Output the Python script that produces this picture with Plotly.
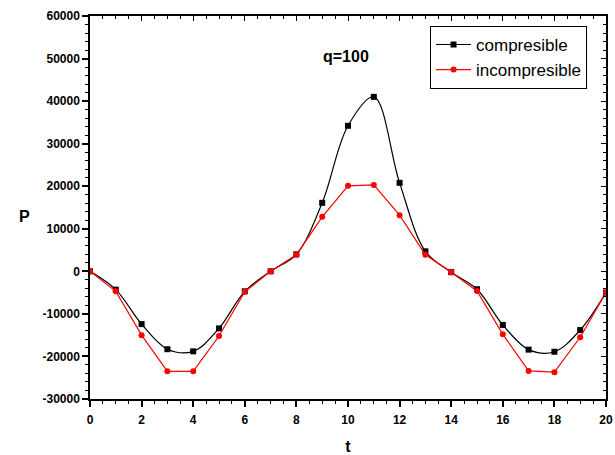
import plotly.graph_objects as go

t = list(range(0, 21))
compresible = [0, -4300, -12400, -18300, -18800, -13400, -4700, 0, 4000, 16100, 34200, 41000,
               20800, 4700, -200, -4200, -12600, -18400, -18900, -13800, -5000]
incompresible = [0, -4700, -15000, -23500, -23500, -15200, -4800, 0, 3900, 12800, 20100, 20300,
                 13200, 3900, -200, -4600, -14800, -23400, -23700, -15500, -5000]

x_ticks = list(range(0, 21, 2))
y_ticks = list(range(-30000, 60001, 10000))
y_ticktext = [str(v) for v in y_ticks]

fig = go.Figure()
fig.add_trace(go.Scatter(x=t, y=compresible, name="compresible", mode="lines+markers",
                         line=dict(color="black", width=1.2, shape="spline", smoothing=1.0),
                         marker=dict(symbol="square", size=6, color="black")))
fig.add_trace(go.Scatter(x=t, y=incompresible, name="incompresible", mode="lines+markers",
                         line=dict(color="red", width=1.2),
                         marker=dict(symbol="circle", size=6, color="red")))

tickfont = dict(family="Liberation Sans", size=12, color="black", weight="bold")
titlefont = dict(family="Liberation Sans", size=16, color="black")
common = dict(showline=True, linecolor="black", linewidth=1.5, showgrid=False, zeroline=False, automargin=False,
              ticks="outside", ticklen=6, tickwidth=1.5, tickcolor="black", tickfont=tickfont)

fig.update_layout(
    width=615, height=455,
    margin=dict(l=90, r=9, t=16, b=56),
    plot_bgcolor="white", paper_bgcolor="white",
    showlegend=True,
    xaxis=dict(range=[0, 20], tickvals=x_ticks, title=dict(text="<b>t</b>", font=titlefont, standoff=18),
               ticklabelstandoff=3,
               minor=dict(dtick=0.5, ticks="outside", ticklen=3, tickwidth=1, tickcolor="black"), **common),
    yaxis=dict(range=[-30000, 60000], tickvals=y_ticks, ticktext=y_ticktext,
               minor=dict(dtick=2000, ticks="outside", ticklen=3, tickwidth=1, tickcolor="black"), **common),
    xaxis2=dict(range=[0, 20], overlaying="x", side="top", anchor="y", showline=True, linecolor="black", linewidth=1.5, automargin=False,
                ticks="inside", ticklen=5, tickwidth=1, tickcolor="black", tickvals=x_ticks, showticklabels=False, showgrid=False, zeroline=False,
                minor=dict(dtick=0.5, ticks="inside", ticklen=3, tickwidth=1, tickcolor="black")),
    yaxis2=dict(range=[-30000, 60000], overlaying="y", side="right", anchor="x", showline=True, linecolor="black", linewidth=1.5, automargin=False,
                ticks="inside", ticklen=5, tickwidth=1, tickcolor="black", tickvals=y_ticks, showticklabels=False, showgrid=False, zeroline=False,
                minor=dict(dtick=2000, ticks="inside", ticklen=3, tickwidth=1, tickcolor="black")),
    legend=dict(x=0.659, y=0.974, xanchor="left", yanchor="top", bgcolor="white", bordercolor="black", borderwidth=1,
                font=dict(family="Liberation Sans", size=17, color="black"), itemwidth=35, tracegroupgap=0),
    annotations=[dict(text="<b>q=100</b>", x=0.496, y=0.921, xref="paper", yref="paper", showarrow=False,
                      font=dict(family="Liberation Sans", size=16, color="black")),
                 dict(text="<b>P</b>", x=-0.1415, y=0.477, xref="paper", yref="paper", showarrow=False,
                      font=titlefont)],
)
# invisible trace so the secondary axes are drawn
fig.add_trace(go.Scatter(x=[0], y=[0], xaxis="x2", yaxis="y2", mode="markers", marker=dict(opacity=0), showlegend=False, hoverinfo="skip"))

fig.write_html("out.html", config={"displayModeBar": False}, post_script="document.body.style.margin='0';")
